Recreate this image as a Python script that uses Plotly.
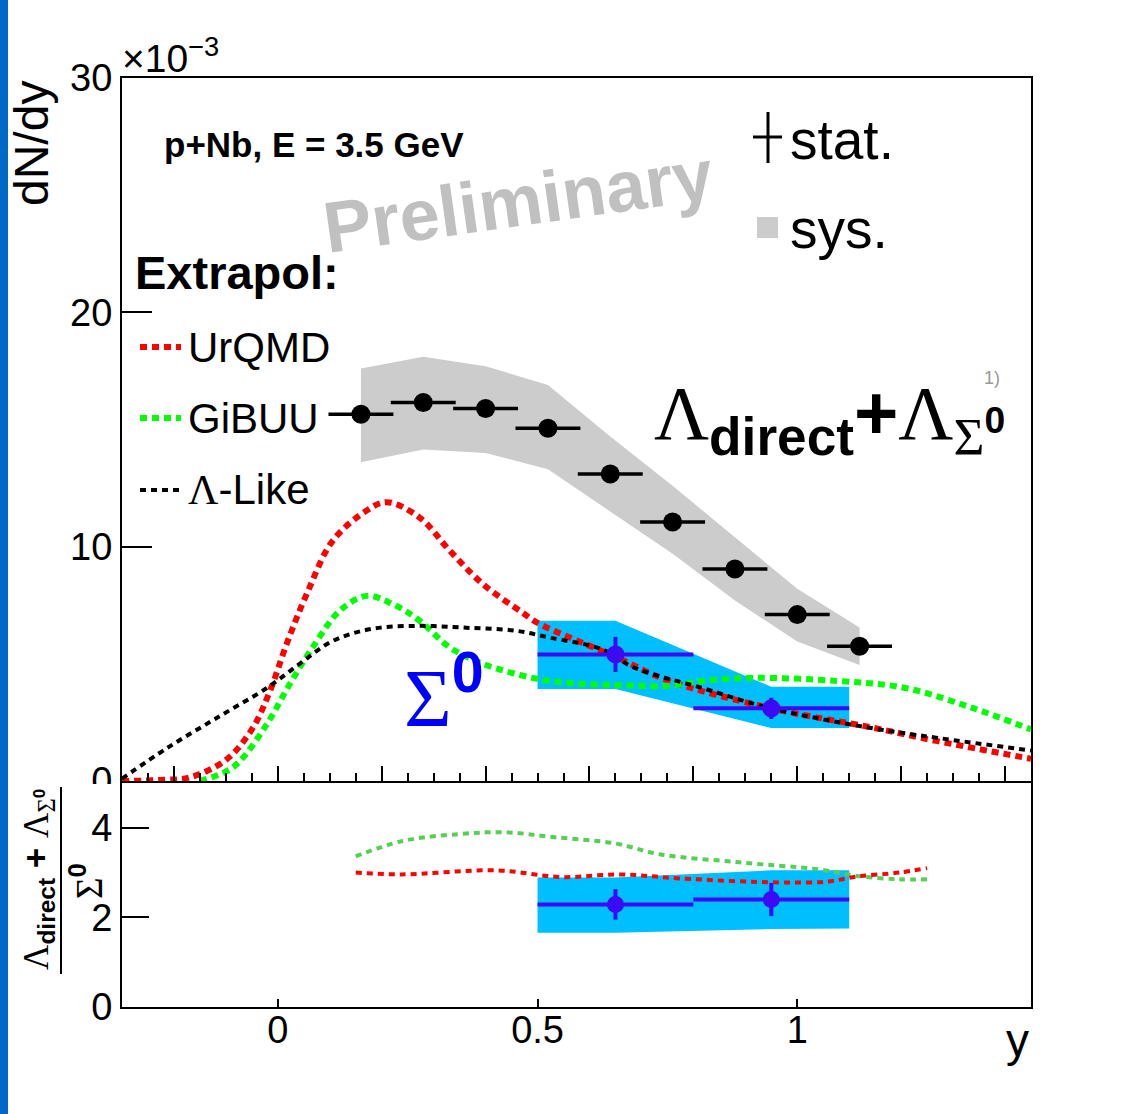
import plotly.graph_objects as go

W, H = 1124, 1114


def px(x):
    return x / W


def py(y):
    return 1 - y / H


SANS = "Liberation Sans, Arial, sans-serif"
SERIF = "Liberation Serif, Times New Roman, serif"

# ---- Lambda (direct + from Sigma0): dN/dy in units of 1e-3 ----
lam_rap = [0.16, 0.28, 0.40, 0.52, 0.64, 0.76, 0.88, 1.00, 1.12]
lam_dndy = [15.65, 16.15, 15.90, 15.05, 13.10, 11.05, 9.05, 7.10, 5.75]
lam_stat = [0.30, 0.30, 0.30, 0.30, 0.28, 0.25, 0.22, 0.20, 0.18]
lam_halfbin = [0.0625] * 9
lam_sys_hi = [17.6, 18.1, 17.7, 16.9, 14.7, 12.6, 10.4, 8.2, 6.55]
lam_sys_lo = [13.6, 14.15, 14.0, 13.3, 11.5, 9.7, 7.7, 5.95, 4.95]

# ---- Sigma0 dN/dy (1e-3) ----
sig_rap = [0.65, 0.95]
sig_halfbin = [0.15, 0.15]
sig_dndy = [5.40, 3.10]
sig_stat = [0.75, 0.45]
sig_sys_rap = [0.50, 0.65, 0.95, 1.10]
sig_sys_hi = [6.84, 6.84, 4.02, 4.02]
sig_sys_lo = [3.93, 3.93, 2.26, 2.26]

# ---- ratio (Lambda_direct + Lambda_Sigma0) / Sigma0 ----
ratio_val = [2.29, 2.40]
ratio_stat = [0.34, 0.37]
ratio_sys_hi = [2.89, 2.89, 3.05, 3.05]
ratio_sys_lo = [1.66, 1.66, 1.74, 1.75]

# ---- transport model curves (dN/dy, 1e-3) ----
urqmd_rap = [-0.30, -0.22, -0.17, -0.10, -0.05, -0.015, 0.017, 0.056, 0.106, 0.171,
             0.21, 0.273, 0.331, 0.395, 0.47, 0.50, 0.65, 0.75, 0.95, 1.14, 1.27, 1.45]
urqmd_dndy = [0.0, 0.05, 0.15, 0.9, 2.2, 3.85, 5.85, 8.0, 10.26, 11.54,
              11.9, 11.24, 9.83, 8.4, 7.2, 6.75, 5.3, 4.3, 3.1, 2.3, 1.7, 0.95]

gibuu_rap = [-0.15, -0.10, -0.073, -0.021, 0.023, 0.067, 0.119, 0.171, 0.221, 0.273,
             0.331, 0.395, 0.49, 0.55, 0.65, 0.75, 0.817, 0.915, 1.077, 1.208, 1.337, 1.45]
gibuu_dndy = [0.0, 0.4, 0.85, 2.43, 4.14, 5.7, 7.26, 7.9, 7.55, 6.84,
              5.7, 5.0, 4.4, 4.2, 4.1, 4.06, 4.27, 4.4, 4.27, 3.97, 3.12, 2.2]

lamlike_rap = [-0.30, -0.213, -0.117, -0.021, 0.042, 0.106, 0.183, 0.273, 0.363, 0.459,
               0.525, 0.622, 0.687, 0.817, 0.946, 1.142, 1.27, 1.45]
lamlike_dndy = [0.1, 1.41, 2.7, 3.97, 5.0, 5.98, 6.5, 6.62, 6.54, 6.41,
                6.11, 5.64, 4.83, 3.97, 3.12, 2.26, 1.84, 1.3]

# model ratios
urqmd_ratio_rap = [0.15, 0.238, 0.421, 0.547, 0.658, 0.773, 0.965, 1.058, 1.119, 1.196, 1.25]
urqmd_ratio = [3.0, 2.96, 3.05, 2.9, 2.96, 2.87, 2.78, 2.8, 2.92, 3.0, 3.1]
gibuu_ratio_rap = [0.15, 0.238, 0.349, 0.437, 0.533, 0.65, 0.735, 0.888, 1.042, 1.119, 1.196, 1.25]
gibuu_ratio = [3.36, 3.7, 3.86, 3.9, 3.79, 3.65, 3.41, 3.23, 3.07, 2.92, 2.85, 2.85]

# axis ticks
main_yticks = [0, 10, 20, 30]
ratio_yticks = [0, 2, 4]
ratio_xticks = [0, 0.5, 1]
ratio_xticklabels = ["0", "0.5", "1"]

RED = "#ff0000"
GREEN = "#00ff00"
GREEN_LIGHT = "#55d055"
GREY_BAND = "#cccccc"
BLUE_BAND = "#00bfff"
BLUE_PT = "#3c0af5"

fig = go.Figure()


def band(xs, hi, lo, color, xa, ya):
    fig.add_trace(go.Scatter(
        x=list(xs) + list(xs)[::-1], y=list(hi) + list(lo)[::-1],
        fill="toself", fillcolor=color, mode="lines", line=dict(width=0),
        xaxis=xa, yaxis=ya, showlegend=False, hoverinfo="skip"))


def curve(xs, ys, color, width, dash, xa, ya):
    fig.add_trace(go.Scatter(
        x=xs, y=ys, mode="lines", xaxis=xa, yaxis=ya, showlegend=False,
        line=dict(color=color, width=width, dash=dash, shape="spline", smoothing=1.0)))


# main panel
band(lam_rap, lam_sys_hi, lam_sys_lo, GREY_BAND, "x", "y")
band(sig_sys_rap, sig_sys_hi, sig_sys_lo, BLUE_BAND, "x", "y")
curve(urqmd_rap, urqmd_dndy, RED, 6, "7px,5px", "x", "y")
curve(gibuu_rap, gibuu_dndy, GREEN, 6, "7px,5px", "x", "y")
curve(lamlike_rap, lamlike_dndy, "black", 4, "6px,5px", "x", "y")

fig.add_trace(go.Scatter(
    x=lam_rap, y=lam_dndy, mode="markers", xaxis="x", yaxis="y", showlegend=False,
    marker=dict(symbol="circle", size=19, color="black"),
    error_x=dict(type="data", array=lam_halfbin, color="black", thickness=3.5, width=0),
    error_y=dict(type="data", array=lam_stat, color="black", thickness=3.5, width=0)))
fig.add_trace(go.Scatter(
    x=sig_rap, y=sig_dndy, mode="markers", xaxis="x", yaxis="y", showlegend=False,
    marker=dict(symbol="circle", size=18, color=BLUE_PT),
    error_x=dict(type="data", array=sig_halfbin, color=BLUE_PT, thickness=4, width=0),
    error_y=dict(type="data", array=sig_stat, color=BLUE_PT, thickness=4, width=0)))

# ratio panel
band(sig_sys_rap, ratio_sys_hi, ratio_sys_lo, BLUE_BAND, "x2", "y2")
curve(gibuu_ratio_rap, gibuu_ratio, GREEN_LIGHT, 4, "6px,5px", "x2", "y2")
curve(urqmd_ratio_rap, urqmd_ratio, RED, 4, "6px,5px", "x2", "y2")
fig.add_trace(go.Scatter(
    x=sig_rap, y=ratio_val, mode="markers", xaxis="x2", yaxis="y2", showlegend=False,
    marker=dict(symbol="circle", size=17, color=BLUE_PT),
    error_x=dict(type="data", array=sig_halfbin, color=BLUE_PT, thickness=4, width=0),
    error_y=dict(type="data", array=ratio_stat, color=BLUE_PT, thickness=4, width=0)))

axis_common = dict(showline=True, linecolor="black", linewidth=2, mirror=True,
                   showgrid=False, zeroline=False, tickcolor="black", tickwidth=1.5,
                   ticks="inside", automargin=False,
                   tickfont=dict(family=SANS, size=38, color="black"))

xdom = [px(122), px(1031)]
fig.update_layout(
    width=W, height=H, autosize=False,
    margin=dict(l=0, r=0, t=0, b=0, pad=0, autoexpand=False),
    paper_bgcolor="white", plot_bgcolor="white", showlegend=False,
    font=dict(family=SANS, color="black"),
    xaxis=dict(domain=xdom, range=[-0.3, 1.45], anchor="y", tick0=0, dtick=0.2,
               ticklen=15, showticklabels=False,
               minor=dict(dtick=0.05, ticklen=8, tickwidth=1.5, tickcolor="black",
                          ticks="inside", showgrid=False),
               **axis_common),
    yaxis=dict(domain=[py(781), py(78)], range=[0, 30], anchor="x",
               tickvals=main_yticks, ticklen=30, **axis_common),
    xaxis2=dict(domain=xdom, range=[-0.3, 1.45], anchor="y2",
                tickvals=ratio_xticks, ticktext=ratio_xticklabels, ticklen=8,
                ticklabelstandoff=-12, **axis_common),
    yaxis2=dict(domain=[py(1007), py(783)], range=[0, 5], anchor="x2",
                tickvals=ratio_yticks, ticklen=27, **axis_common),
)

shapes = []
annotations = []


def text(x, y, s, size, xanchor="left", yanchor="middle", angle=0, color="black",
         family=SANS):
    annotations.append(dict(
        x=px(x), y=py(y), xref="paper", yref="paper", text=s, showarrow=False,
        xanchor=xanchor, yanchor=yanchor, textangle=angle,
        font=dict(family=family, size=size, color=color)))


def lam(s="Λ"):
    return f"<span style='font-family:{SERIF}'>{s}</span>"


# side stripe
shapes.append(dict(type="rect", xref="paper", yref="paper", x0=0, x1=px(8), y0=0, y1=1,
                   fillcolor="#0069c8", line=dict(width=0), layer="above"))
# hide lower half of the main-panel "0" label behind the ratio pad
shapes.append(dict(type="rect", xref="paper", yref="paper", x0=px(55), x1=px(120),
                   y0=py(802), y1=py(784), fillcolor="white", line=dict(width=0),
                   layer="above"))

# axis titles
text(31, 144, "dN/dy", 48, xanchor="center", angle=-90)
text(120, 55, "×10<sup>−3</sup>", 39)
text(1031, 1040, "y", 46, xanchor="right")

# ratio axis title as a fraction
text(38, 880, lam() + "<sub><b>direct</b></sub> <b>+</b> " + lam() +
     "<sub>" + lam("Σ") + "<sup><b>0</b></sup></sub>", 35, xanchor="center", angle=-90)
shapes.append(dict(type="line", xref="paper", yref="paper", x0=px(61), x1=px(61),
                   y0=py(787), y1=py(974), line=dict(color="black", width=2)))
text(86, 881, lam("Σ") + "<sup><b>0</b></sup>", 37, xanchor="center", angle=-90)

# labels inside the main pad
text(162, 145, "<b>p+Nb, E = 3.5 GeV</b>", 35)
text(518, 201, "<b>Preliminary</b>", 72, xanchor="center", angle=-8, color="#c0c0c0")
text(133, 272, "<b>Extrapol:</b>", 47)

# stat / sys legend
shapes.append(dict(type="line", xref="paper", yref="paper", x0=px(768), x1=px(768),
                   y0=py(112), y1=py(163), line=dict(color="black", width=3)))
shapes.append(dict(type="line", xref="paper", yref="paper", x0=px(753), x1=px(782),
                   y0=py(137), y1=py(137), line=dict(color="black", width=3)))
text(788, 140, "stat.", 55)
shapes.append(dict(type="rect", xref="paper", yref="paper", x0=px(757), x1=px(778),
                   y0=py(238), y1=py(217), fillcolor=GREY_BAND, line=dict(width=0)))
text(788, 229, "sys.", 55)

# model legend
legend_items = [("UrQMD", RED, 6, "7px,5px", 347),
                ("GiBUU", GREEN, 6, "7px,5px", 418),
                (lam() + "-Like", "black", 4, "6px,5px", 490)]
for label, color, width, dash, yy in legend_items:
    shapes.append(dict(type="line", xref="paper", yref="paper", x0=px(140), x1=px(181),
                       y0=py(yy), y1=py(yy), line=dict(color=color, width=width, dash=dash)))
    text(186, yy, label, 42)

# particle labels
text(652, 418, lam() + "<sub><b>direct</b></sub><b>+</b>" + lam() +
     "<sub>" + lam("Σ") + "<sup><b>0</b></sup></sub>", 76)
text(982, 378, "1)", 18, color="#999999")
text(402, 692, lam("Σ") + "<sup><b>0</b></sup>", 82, color="#0000ff")

fig.update_layout(shapes=shapes, annotations=annotations)
fig.write_html("out.html")
